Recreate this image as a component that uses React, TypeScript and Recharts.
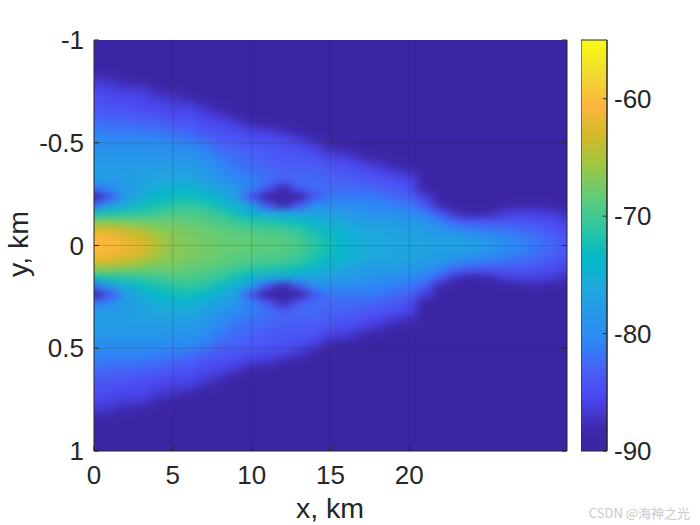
import { Bar, BarChart, ReferenceLine, Scatter, ScatterChart, XAxis, YAxis } from "recharts";

// x positions of the sampled columns, km
const xs = [0, 1, 2, 3, 4, 5, 6, 7, 8, 9, 10, 11, 12, 13, 14, 15, 16, 17, 18, 19, 20, 21, 22, 23, 24, 25, 26, 27, 28, 29, 30];
// distance from the axis of each sampled row, km (the field is mirrored about y = 0)
const ys = [0, 0.04, 0.08, 0.12, 0.16, 0.2, 0.24, 0.28, 0.32, 0.36, 0.4, 0.44, 0.48, 0.52, 0.56, 0.6, 0.64, 0.68, 0.72, 0.76, 0.8, 0.84, 0.88, 0.92, 0.96, 1];
// field level, one list per x; rows past the end of a list are at the floor level
const levels = [
  [-60, -60.5, -63, -67, -73, -82, -90, -82, -78, -77.5, -78, -78.5, -79.5, -80, -81, -82, -83, -84, -84.5, -85.5, -86.5, -88.5],
  [-60.5, -61, -63, -67, -72, -78, -84, -80.5, -78, -77.5, -78, -78.5, -79.5, -80.5, -81.5, -82.5, -83.5, -84.5, -85, -86, -87, -89],
  [-61.5, -62, -64, -67.5, -71.5, -75.5, -78, -78, -77.5, -77.5, -78, -78.5, -79.5, -80.5, -81.5, -82.5, -83.5, -84.5, -85.5, -86.5, -88],
  [-62.5, -63, -65, -68, -71, -73, -75.5, -76.5, -77, -77, -78, -78.5, -79.5, -80.5, -81.5, -83, -84, -85, -85.5, -86.5, -88.5],
  [-64.5, -65, -66.5, -68, -70.5, -72, -73.5, -75, -76, -77, -78, -78.5, -79.5, -80.5, -82, -83, -84.5, -85.5, -86.5, -88],
  [-66.5, -66.5, -67, -68, -69.5, -71.5, -73, -74.5, -76, -77, -78, -79, -80, -81, -82.5, -84, -85, -86, -87, -89],
  [-67, -67, -67.5, -68.5, -69.5, -71, -72.5, -74, -76, -77, -78, -79, -80, -81.5, -83, -84, -85, -86, -88],
  [-67.5, -67.5, -68, -69, -70, -71.5, -73.5, -75.5, -77, -78, -79, -80, -81, -82.5, -84, -85, -86, -87.5],
  [-68, -68, -68.5, -69.5, -71, -73, -75, -77, -78.5, -79.5, -80.5, -81.5, -82.5, -83.5, -84.5, -85.5, -87, -89],
  [-68, -68.5, -69, -70.5, -72.5, -75, -77, -78.5, -80, -81, -82, -82.5, -83, -84, -85, -86.5, -89],
  [-68.5, -68.5, -69.5, -71.5, -74.5, -78, -84, -81, -81, -82, -82.5, -83, -83.5, -84.5, -86, -88],
  [-68.5, -69, -70, -72, -76, -84, -90, -84, -82, -82.5, -83, -83.5, -84, -85, -86.5, -89],
  [-69, -69, -70, -72.5, -76.5, -88, -90, -88, -83.5, -83, -83.5, -84, -84.5, -85.5, -87.5],
  [-69.5, -70, -71, -73, -77, -84, -90, -84, -82.5, -83, -83.5, -84, -85, -86.5, -89],
  [-71, -71.5, -72.5, -74.5, -77, -80, -84, -82.5, -82.5, -83, -83.5, -84.5, -86, -88],
  [-72.5, -73, -74, -75.5, -77.5, -80, -81.5, -82.5, -83, -83.5, -84.5, -86, -88],
  [-74.5, -74.5, -75, -76.5, -78, -80, -81.5, -82.5, -83, -84, -85, -86.5, -89],
  [-75.5, -75.5, -76, -77.5, -79, -80, -81.5, -82.5, -83.5, -84.5, -86, -88],
  [-76, -76, -76.5, -78, -79.5, -80.5, -81.5, -83, -84, -85.5, -87, -89.5],
  [-76.5, -76.5, -77, -78, -79.5, -81, -82.5, -83.5, -84.5, -86.5, -88.5],
  [-76.5, -76.5, -77, -78.5, -80, -81.5, -83, -84.5, -85.5, -87.5, -89.5],
  [-76.5, -77, -77.5, -79, -81, -83.5, -86, -89],
  [-77, -77.5, -78.5, -81, -84, -88],
  [-77, -77.5, -80, -83, -87.5],
  [-77.5, -78, -81, -84, -89],
  [-78, -79, -81.5, -84, -88],
  [-79.5, -80, -82, -84, -86.5, -89.5],
  [-80.5, -81, -82.5, -84, -86, -88.5],
  [-81.5, -82, -83, -84.5, -86, -88],
  [-82.5, -83, -84, -85, -86.5, -89],
  [-83.5, -84, -85, -86, -87.5],
];

const xTicks = [0, 5, 10, 15, 20];
const yTicks = [-1, -0.5, 0, 0.5, 1];
const barTicks = [-60, -70, -80, -90];
const xGrid = [5, 10, 15, 20];
const yGrid = [-0.5, 0, 0.5];
// plot corners, they tie the axes of the overlay chart to their domains
const corners = [{ x: 0, y: -1 }, { x: 30, y: 1 }];

// colour bar stops, position from -90 (0) to -55 (1)
const stopAt = [0, 0.05, 0.13, 0.19, 0.27, 0.4, 0.47, 0.54, 0.62, 0.7, 0.77, 0.84, 0.92, 1];
const stopColor = ["#3c25a5", "#3d28ab", "#4a46ee", "#4a5cf7", "#2c88f5", "#1fa8dc", "#02b8c8", "#2dc6a2", "#62cc78", "#a2c640", "#d4b92a", "#fdb53f", "#f0dc2e", "#f9fb15"];

const LEVEL_MIN = -90;
const LEVEL_MAX = -55;
const X_MAX = 30;
const PLOT = { left: 94, top: 40, width: 473, height: 411 };
const MARGIN = { top: PLOT.top, right: 133, bottom: 74, left: PLOT.left };
const INK = "#262626";
const FONT = "'Liberation Sans', Arial, sans-serif";

const hex = (c: string, i: number) => parseInt(c.slice(1 + i * 2, 3 + i * 2), 16);

function levelColor(v: number) {
  const t = Math.min(1, Math.max(0, (v - LEVEL_MIN) / (LEVEL_MAX - LEVEL_MIN)));
  let i = 0;
  while (i < stopAt.length - 2 && t > stopAt[i + 1]) i++;
  const f = (t - stopAt[i]) / (stopAt[i + 1] - stopAt[i]);
  const part = (n: number) => Math.round(hex(stopColor[i], n) + (hex(stopColor[i + 1], n) - hex(stopColor[i], n)) * f);
  return `rgb(${part(0)},${part(1)},${part(2)})`;
}

const cells = xs.flatMap((x, col) =>
  ys.flatMap((y, row) =>
    (row === 0 ? [y] : [-y, y]).map((yy) => ({ x, y: yy, level: levels[col][row] ?? LEVEL_MIN }))
  )
);

const cellW = (PLOT.width * (xs[1] - xs[0])) / X_MAX + 1;
const cellH = (PLOT.height * (ys[1] - ys[0])) / 2 + 1;
const BLEED = 40;

// one cell of the map; border cells run on past the frame so the blur has no pale rim
function HeatCell(props: any) {
  const { cx, cy, payload } = props;
  const x0 = payload.x === xs[0] ? cx - BLEED : cx - cellW / 2;
  const x1 = payload.x === xs[xs.length - 1] ? cx + BLEED : cx + cellW / 2;
  const y0 = payload.y === -1 ? cy - BLEED : cy - cellH / 2;
  const y1 = payload.y === 1 ? cy + BLEED : cy + cellH / 2;
  return <rect x={x0} y={y0} width={x1 - x0} height={y1 - y0} fill={levelColor(payload.level)} />;
}

const NoMark = () => <g />;

const XTick = ({ x, y, payload }: any) => (
  <g>
    <line x1={x} x2={x} y1={y} y2={y - 5} stroke={INK} />
    <text x={x} y={y + 33} textAnchor="middle" fontSize={26} fontFamily={FONT} fill={INK}>{payload.value}</text>
  </g>
);

const YTick = ({ x, y, payload }: any) => (
  <g>
    <line x1={x} x2={x + 5} y1={y} y2={y} stroke={INK} />
    <text x={x - 10} y={y + 9} textAnchor="end" fontSize={26} fontFamily={FONT} fill={INK}>{payload.value}</text>
  </g>
);

const TopTick = ({ x, y }: any) => <line x1={x} x2={x} y1={y} y2={y + 5} stroke={INK} />;
const RightTick = ({ x, y }: any) => <line x1={x} x2={x - 5} y1={y} y2={y} stroke={INK} />;

const BarTick = ({ x, y, payload }: any) => (
  <g>
    <line x1={x} x2={x - 4} y1={y} y2={y} stroke={INK} />
    <text x={x + 7} y={y + 9} textAnchor="start" fontSize={26} fontFamily={FONT} fill={INK}>{payload.value}</text>
  </g>
);

export default function App() {
  return (
    <div style={{ position: "absolute", left: 0, top: 0, width: 700, height: 525, background: "#fff", overflow: "hidden" }}>
      <style>{`.heat-cells { filter: url(#heatBlur); clip-path: url(#plotClip); }`}</style>

      {/* the map itself */}
      <div style={{ position: "absolute", left: 0, top: 0 }}>
        <ScatterChart width={700} height={525} margin={MARGIN}>
          <defs>
            <filter id="heatBlur" filterUnits="userSpaceOnUse" x="0" y="0" width="700" height="525" colorInterpolationFilters="sRGB">
              <feGaussianBlur stdDeviation="5.5 3" />
            </filter>
            <clipPath id="plotClip">
              <rect x={PLOT.left} y={PLOT.top} width={PLOT.width} height={PLOT.height} />
            </clipPath>
          </defs>
          <XAxis type="number" dataKey="x" domain={[0, X_MAX]} hide allowDataOverflow />
          <YAxis type="number" dataKey="y" reversed domain={[-1, 1]} hide allowDataOverflow />
          <Scatter className="heat-cells" data={cells} shape={<HeatCell />} isAnimationActive={false} />
        </ScatterChart>
      </div>

      {/* frame, ticks and grid go in a second chart on top, recharts paints series over axes */}
      <div style={{ position: "absolute", left: 0, top: 0 }}>
        <ScatterChart width={700} height={525} margin={{ top: PLOT.top, right: 0, bottom: 0, left: 0 }}>
          <XAxis type="number" dataKey="x" domain={[0, X_MAX]} ticks={xTicks} height={74} stroke={INK} tick={<XTick />} tickSize={0} tickMargin={0} tickLine={false} interval={0} allowDataOverflow />
          <XAxis xAxisId="top" type="number" dataKey="x" orientation="top" domain={[0, X_MAX]} ticks={xTicks} height={0} stroke={INK} tick={<TopTick />} tickSize={0} tickMargin={0} tickLine={false} interval={0} allowDataOverflow />
          <YAxis type="number" dataKey="y" reversed domain={[-1, 1]} ticks={yTicks} width={PLOT.left} stroke={INK} tick={<YTick />} tickSize={0} tickMargin={0} tickLine={false} interval={0} allowDataOverflow />
          <YAxis yAxisId="right" type="number" dataKey="y" orientation="right" reversed domain={[-1, 1]} ticks={yTicks} width={133} stroke={INK} tick={<RightTick />} tickSize={0} tickMargin={0} tickLine={false} interval={0} allowDataOverflow />
          <Scatter data={corners} shape={<NoMark />} isAnimationActive={false} />
          <Scatter data={corners} xAxisId="top" yAxisId="right" shape={<NoMark />} isAnimationActive={false} />
          {xGrid.map((v) => (
            <ReferenceLine key={v} x={v} stroke={INK} strokeOpacity={0.2} />
          ))}
          {yGrid.map((v) => (
            <ReferenceLine key={v} y={v} stroke={INK} strokeOpacity={0.2} />
          ))}
          <text x={330} y={518} textAnchor="middle" fontSize={28.5} fontFamily={FONT} fill={INK}>x, km</text>
          <text x={0} y={0} transform="translate(28 244) rotate(-90)" textAnchor="middle" fontSize={28.5} fontFamily={FONT} fill={INK}>y, km</text>
        </ScatterChart>
      </div>

      <div style={{ position: "absolute", left: 581, top: 0 }}>
        <BarChart width={119} height={525} data={[{ name: "level", span: [LEVEL_MIN, LEVEL_MAX] }]} margin={{ top: PLOT.top, right: 0, bottom: 74, left: 0 }} barCategoryGap={0}>
          <defs>
            <linearGradient id="barFill" x1="0" y1="1" x2="0" y2="0">
              {stopAt.map((s, i) => (
                <stop key={s} offset={s} stopColor={stopColor[i]} />
              ))}
            </linearGradient>
          </defs>
          <XAxis dataKey="name" hide />
          <YAxis type="number" orientation="right" domain={[LEVEL_MIN, LEVEL_MAX]} ticks={barTicks} width={93} stroke={INK} tick={<BarTick />} tickSize={0} tickMargin={0} tickLine={false} interval={0} />
          <Bar dataKey="span" fill="url(#barFill)" stroke={INK} isAnimationActive={false} />
        </BarChart>
      </div>

      <div style={{ position: "absolute", right: 10, top: 503, fontSize: 13, fontFamily: "'Noto Sans CJK SC', sans-serif", color: "#c9c9c9" }}>CSDN @海神之光</div>
    </div>
  );
}
